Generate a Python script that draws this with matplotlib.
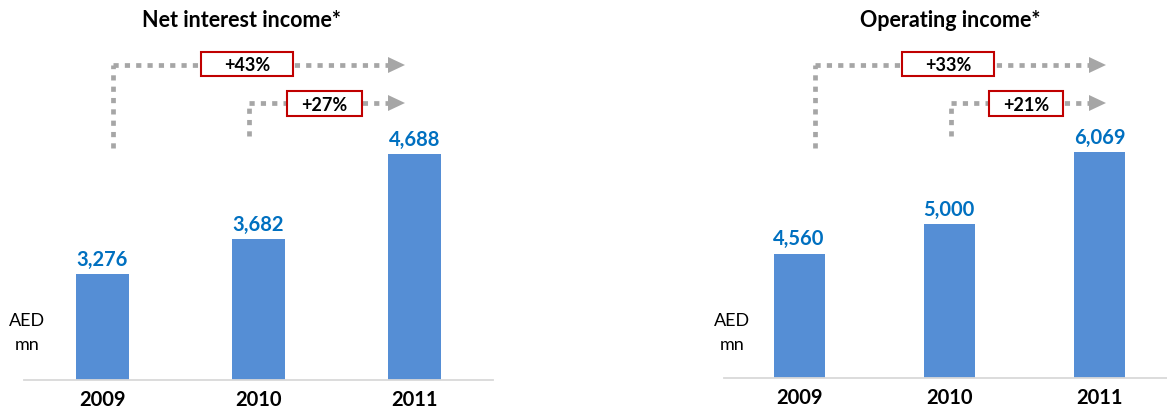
import matplotlib
matplotlib.use("Agg")
import matplotlib.pyplot as plt
from matplotlib.lines import Line2D
from matplotlib.patches import Polygon, Rectangle

# --- data -------------------------------------------------------------
years = ["2009", "2010", "2011"]
net_interest_income = [3276, 3682, 4688]
operating_income = [4560, 5000, 6069]
panel_titles = ["Net interest income", "Operating income"]
unit_lines = ["AED", "mn"]

# --- style ------------------------------------------------------------
BAR_COLOR = "#558ED5"
VALUE_COLOR = "#0070C0"
DOT_COLOR = "#A6A6A6"
BOX_EDGE = "#C00000"
AXIS_COLOR = "#D9D9D9"

plt.rcParams["font.family"] = ["Lato", "DejaVu Sans"]

W, H = 1167, 411
fig = plt.figure(figsize=(W / 100, H / 100), dpi=100)


def fx(x):
    return x / W


def fy(y):
    return 1 - y / H


def dotted(x0, y0, x1, y1):
    fig.add_artist(Line2D([fx(x0), fx(x1)], [fy(y0), fy(y1)],
                          transform=fig.transFigure, color=DOT_COLOR,
                          lw=3.4, dashes=(1.1, 1.3), dash_capstyle="butt",
                          zorder=2))


def arrow_head(tip_x, y, length=17, half=8):
    fig.add_artist(Polygon([(fx(tip_x - length), fy(y - half)),
                            (fx(tip_x - length), fy(y + half)),
                            (fx(tip_x), fy(y))],
                           closed=True, transform=fig.transFigure,
                           facecolor=DOT_COLOR, edgecolor="none", zorder=2))


def growth_box(x0, x1, y0, y1, label):
    fig.add_artist(Rectangle((fx(x0), fy(y1)), fx(x1) - fx(x0), fy(y0) - fy(y1),
                             transform=fig.transFigure, facecolor="white",
                             edgecolor=BOX_EDGE, lw=1.5, zorder=3))
    fig.text(fx((x0 + x1) / 2), fy((y0 + y1) / 2), label, ha="center",
             va="center_baseline", fontsize=13, fontweight="bold",
             color="black", zorder=4)


def growth_label(new, old):
    return f"+{round((new / old - 1) * 100)}%"


panels = [
    dict(values=net_interest_income, title=panel_titles[0],
         x0=24, x1=493, base=380, floor=2030, px_per_unit=0.08505,
         xlim=(-0.5, 2.5), title_x=241, unit_x=27,
         v1=113, v2=249, tip=405, box1=(201, 293), box2=(287, 362)),
    dict(values=operating_income, title=panel_titles[1],
         x0=724, x1=1167, base=378, floor=2717, px_per_unit=0.06739,
         xlim=(-0.5, 2.45), title_x=950, unit_x=732,
         v1=815, v2=951, tip=1106, box1=(902, 994), box2=(989, 1063)),
]

for p in panels:
    vals = p["values"]
    ax = fig.add_axes([fx(p["x0"]), fy(p["base"]),
                       fx(p["x1"]) - fx(p["x0"]), p["base"] / H])
    xs = list(range(len(years)))
    ax.bar(xs, vals, width=0.34, color=BAR_COLOR, zorder=2)
    ax.set_xlim(*p["xlim"])
    ax.set_ylim(p["floor"], p["floor"] + p["base"] / p["px_per_unit"])

    for s in ("top", "right", "left"):
        ax.spines[s].set_visible(False)
    ax.spines["bottom"].set_color(AXIS_COLOR)
    ax.spines["bottom"].set_linewidth(1.3)
    ax.set_yticks([])
    ax.set_xticks(xs)
    ax.set_xticklabels(years, fontsize=14.5, fontweight="bold")
    ax.tick_params(axis="x", length=0, pad=7)
    ax.patch.set_alpha(0)

    for x, v in zip(xs, vals):
        ax.annotate(f"{v:,}", xy=(x, v), xytext=(0, 6),
                    textcoords="offset points", ha="center", va="baseline",
                    fontsize=14.5, fontweight="bold", color=VALUE_COLOR)

    # title and unit
    fig.text(fx(p["title_x"]), fy(27), p["title"] + "*", ha="center",
             va="baseline", fontsize=15.5, fontweight="bold")
    fig.text(fx(p["unit_x"]), fy(326), unit_lines[0], ha="center",
             va="baseline", fontsize=13)
    fig.text(fx(p["unit_x"]), fy(350), unit_lines[1], ha="center",
             va="baseline", fontsize=13)

    # growth connectors
    dotted(p["v1"], 148, p["v1"], 65)
    dotted(p["v1"], 65, p["tip"] - 17, 65)
    arrow_head(p["tip"], 65)
    dotted(p["v2"], 136, p["v2"], 103)
    dotted(p["v2"], 103, p["tip"] - 17, 103)
    arrow_head(p["tip"], 103)
    growth_box(*p["box1"], 52, 76, growth_label(vals[2], vals[0]))
    growth_box(*p["box2"], 91, 116, growth_label(vals[2], vals[1]))

fig.savefig("out.png", dpi=100, facecolor="white")
